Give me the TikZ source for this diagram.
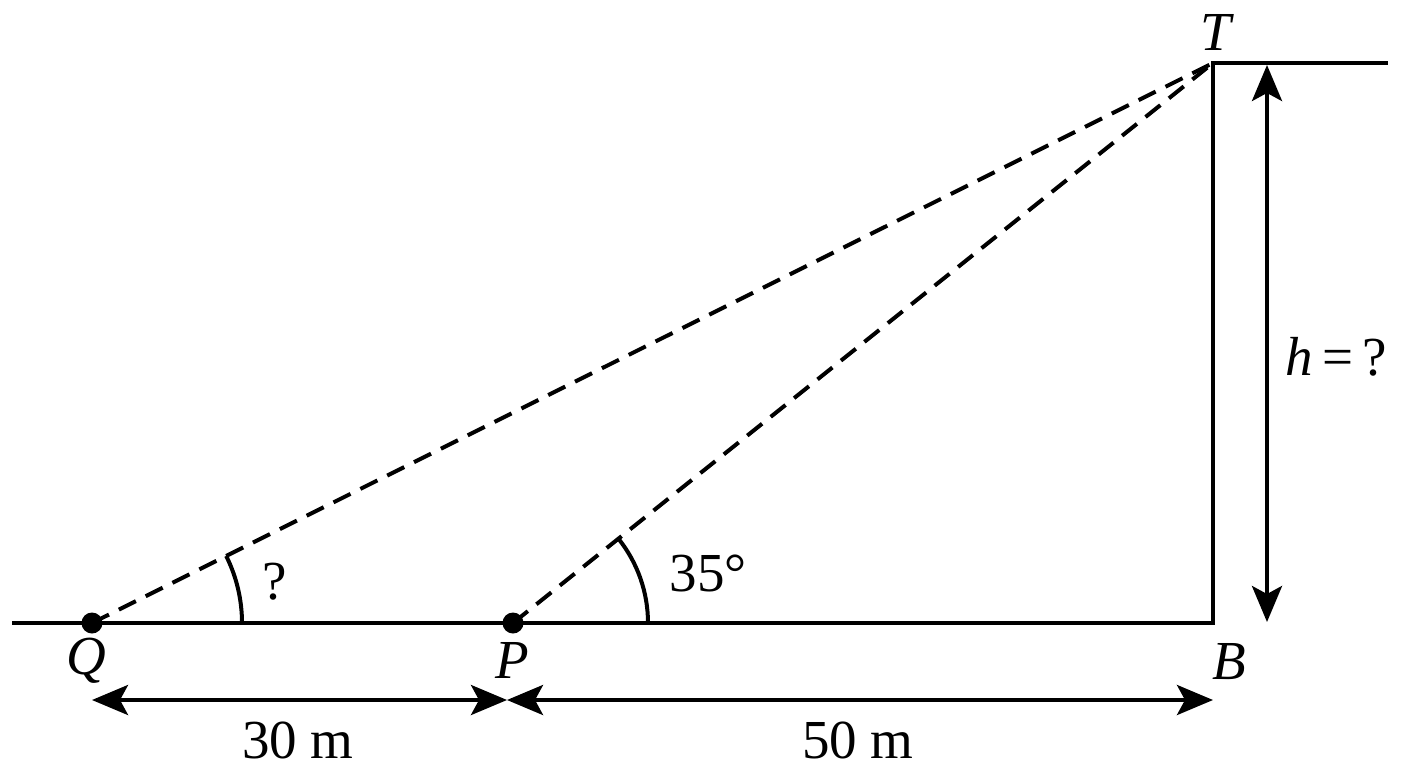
\documentclass[tikz,border=0pt]{standalone}
\usepackage{fontspec}
\setmainfont{Liberation Serif}
\usetikzlibrary{arrows.meta,calc}
\begin{document}
\begin{tikzpicture}[x=1pt,y=-1pt,
  solid line/.style={line width=4pt},
  dash line/.style={line width=4pt,dash pattern=on 19pt off 11pt},
  dim/.style={line width=4pt,{Stealth[length=36pt,width=30pt,inset=8pt]}-{Stealth[length=36pt,width=30pt,inset=8pt]}},
  lbl/.style={font=\fontsize{55}{66}\selectfont,inner sep=0pt},
  dot/.style={circle,fill=black,minimum size=21pt,inner sep=0pt}]
\useasboundingbox (0,0) rectangle (1408,768);
\coordinate (G0) at (12,623);
\coordinate (Q) at (92,623);
\coordinate (P) at (513,623);
\coordinate (B) at (1213,623);
\coordinate (T) at (1213,63);
\coordinate (TR) at (1388,63);
\coordinate (H1) at (1267,65);
\coordinate (H2) at (1267,622);
\coordinate (D1) at (92,700);
\coordinate (D2) at (507,700);
\coordinate (D3) at (1213,700);
% ground, tower, roof
\draw[solid line] (G0) -- (B) -- (T) -- (TR);
% lines of sight
\draw[dash line] (Q) -- (T);
\draw[dash line] (P) -- (T);
% angle arcs
\draw[solid line] ($(Q)+(150,0)$) arc[start angle=0,end angle=-26.54,radius=150];
\draw[solid line] ($(P)+(135,0)$) arc[start angle=0,end angle=-38.66,radius=135];
% dots
\node[dot] (q) at (Q) {};
\node[dot] (p) at (P) {};
% dimension arrows
\draw[dim] (H1) -- (H2);
\draw[dim] (D1) -- (D2);
\draw[dim] (D2) -- (D3);
% labels
\node[lbl] (lT) at (1217,32) {\textit{T}};
\node[lbl] (lQ) at (86,661) {\textit{Q}};
\node[lbl] (lP) at (512,660) {\textit{P}};
\node[lbl] (lB) at (1229,662) {\textit{B}};
\node[lbl] (l30) at (298,740) {30 m};
\node[lbl] (l50) at (858,740) {50 m};
\node[lbl] (lq) at (275,582) {?};
\node[lbl] (l35) at (708,573) {35°};
\node[lbl] (lh) at (1336,357) {\textit{h}\,=\,?};
\end{tikzpicture}
\end{document}
